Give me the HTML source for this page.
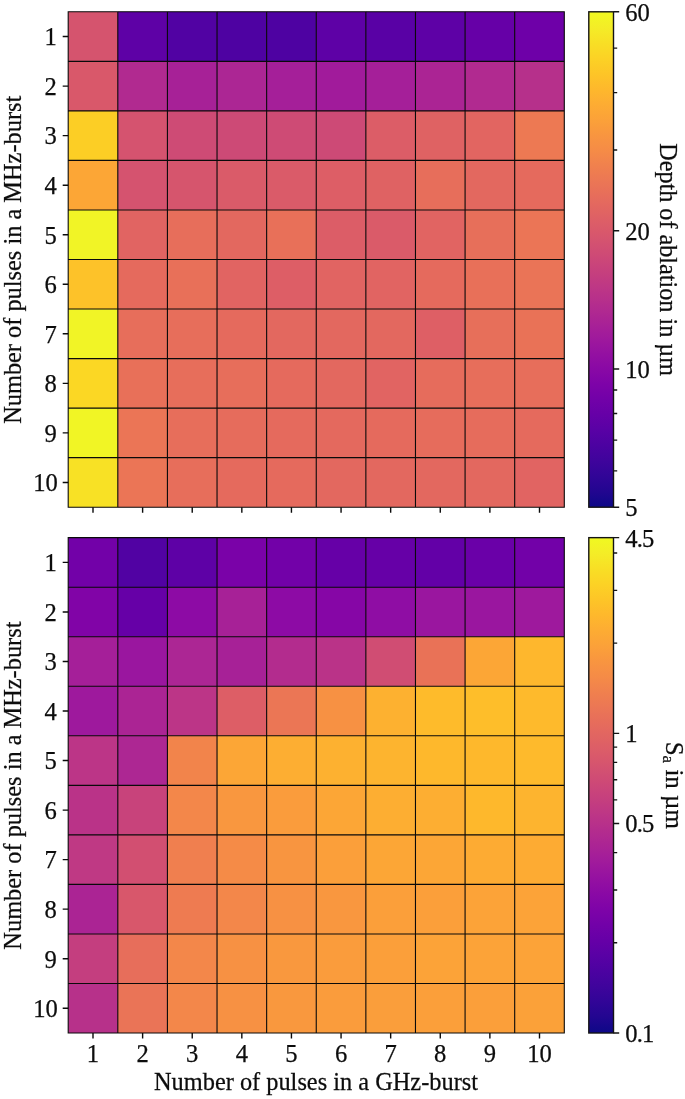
<!DOCTYPE html>
<html lang="en"><head><meta charset="utf-8"><title>Heatmaps</title>
<style>html,body{margin:0;padding:0;background:#fff}svg{display:block}text{font-family:"Liberation Serif","Times New Roman",serif;fill:#0d0d0d;stroke:#0d0d0d;stroke-width:0.25px}</style></head><body>
<svg width="685" height="1099" viewBox="0 0 685 1099">
<rect width="685" height="1099" fill="#fff"/>
<defs>
<linearGradient id="g1" x1="0" y1="1" x2="0" y2="0">
<stop offset="0.0000" stop-color="#0d0887"/>
<stop offset="0.0312" stop-color="#220690"/>
<stop offset="0.0625" stop-color="#310597"/>
<stop offset="0.0938" stop-color="#3f049c"/>
<stop offset="0.1250" stop-color="#4c02a1"/>
<stop offset="0.1562" stop-color="#5901a5"/>
<stop offset="0.1875" stop-color="#6600a7"/>
<stop offset="0.2188" stop-color="#7201a8"/>
<stop offset="0.2500" stop-color="#7e03a8"/>
<stop offset="0.2812" stop-color="#8a09a5"/>
<stop offset="0.3125" stop-color="#9511a1"/>
<stop offset="0.3438" stop-color="#a01a9c"/>
<stop offset="0.3750" stop-color="#aa2395"/>
<stop offset="0.4062" stop-color="#b32c8e"/>
<stop offset="0.4375" stop-color="#bc3587"/>
<stop offset="0.4688" stop-color="#c43e7f"/>
<stop offset="0.5000" stop-color="#cc4778"/>
<stop offset="0.5312" stop-color="#d35171"/>
<stop offset="0.5625" stop-color="#da5a6a"/>
<stop offset="0.5938" stop-color="#e06363"/>
<stop offset="0.6250" stop-color="#e66c5c"/>
<stop offset="0.6562" stop-color="#eb7655"/>
<stop offset="0.6875" stop-color="#f0804e"/>
<stop offset="0.7188" stop-color="#f58b47"/>
<stop offset="0.7500" stop-color="#f89540"/>
<stop offset="0.7812" stop-color="#fba139"/>
<stop offset="0.8125" stop-color="#fdac33"/>
<stop offset="0.8438" stop-color="#feb82c"/>
<stop offset="0.8750" stop-color="#fdc527"/>
<stop offset="0.9062" stop-color="#fcd225"/>
<stop offset="0.9375" stop-color="#f8df25"/>
<stop offset="0.9688" stop-color="#f4ed27"/>
<stop offset="1.0000" stop-color="#f0f921"/>
</linearGradient>
</defs>
<rect x="68.20" y="11.80" width="50.61" height="50.54" fill="#d5546e"/>
<rect x="117.81" y="11.80" width="50.61" height="50.54" fill="#5e01a6"/>
<rect x="167.42" y="11.80" width="50.61" height="50.54" fill="#5102a3"/>
<rect x="217.03" y="11.80" width="50.61" height="50.54" fill="#4e02a2"/>
<rect x="266.64" y="11.80" width="50.61" height="50.54" fill="#4e02a2"/>
<rect x="316.25" y="11.80" width="50.61" height="50.54" fill="#5e01a6"/>
<rect x="365.86" y="11.80" width="50.61" height="50.54" fill="#5901a5"/>
<rect x="415.47" y="11.80" width="50.61" height="50.54" fill="#5e01a6"/>
<rect x="465.08" y="11.80" width="50.61" height="50.54" fill="#6600a7"/>
<rect x="514.69" y="11.80" width="49.61" height="50.54" fill="#6e00a8"/>
<rect x="68.20" y="61.34" width="50.61" height="50.54" fill="#d9586a"/>
<rect x="117.81" y="61.34" width="50.61" height="50.54" fill="#b12a90"/>
<rect x="167.42" y="61.34" width="50.61" height="50.54" fill="#a72197"/>
<rect x="217.03" y="61.34" width="50.61" height="50.54" fill="#ac2694"/>
<rect x="266.64" y="61.34" width="50.61" height="50.54" fill="#a51f99"/>
<rect x="316.25" y="61.34" width="50.61" height="50.54" fill="#a11b9b"/>
<rect x="365.86" y="61.34" width="50.61" height="50.54" fill="#a51f99"/>
<rect x="415.47" y="61.34" width="50.61" height="50.54" fill="#ab2494"/>
<rect x="465.08" y="61.34" width="50.61" height="50.54" fill="#b12a90"/>
<rect x="514.69" y="61.34" width="49.61" height="50.54" fill="#b6308b"/>
<rect x="68.20" y="110.88" width="50.61" height="50.54" fill="#fcce25"/>
<rect x="117.81" y="110.88" width="50.61" height="50.54" fill="#d5536f"/>
<rect x="167.42" y="110.88" width="50.61" height="50.54" fill="#ce4b75"/>
<rect x="217.03" y="110.88" width="50.61" height="50.54" fill="#cd4a76"/>
<rect x="266.64" y="110.88" width="50.61" height="50.54" fill="#ce4b75"/>
<rect x="316.25" y="110.88" width="50.61" height="50.54" fill="#cd4a76"/>
<rect x="365.86" y="110.88" width="50.61" height="50.54" fill="#dc5d67"/>
<rect x="415.47" y="110.88" width="50.61" height="50.54" fill="#df6263"/>
<rect x="465.08" y="110.88" width="50.61" height="50.54" fill="#e26561"/>
<rect x="514.69" y="110.88" width="49.61" height="50.54" fill="#ed7953"/>
<rect x="68.20" y="160.42" width="50.61" height="50.54" fill="#fca636"/>
<rect x="117.81" y="160.42" width="50.61" height="50.54" fill="#d5536f"/>
<rect x="167.42" y="160.42" width="50.61" height="50.54" fill="#d6556d"/>
<rect x="217.03" y="160.42" width="50.61" height="50.54" fill="#da5b69"/>
<rect x="266.64" y="160.42" width="50.61" height="50.54" fill="#da5b69"/>
<rect x="316.25" y="160.42" width="50.61" height="50.54" fill="#dd5e66"/>
<rect x="365.86" y="160.42" width="50.61" height="50.54" fill="#df6263"/>
<rect x="415.47" y="160.42" width="50.61" height="50.54" fill="#e76e5b"/>
<rect x="465.08" y="160.42" width="50.61" height="50.54" fill="#e3685f"/>
<rect x="514.69" y="160.42" width="49.61" height="50.54" fill="#e56a5d"/>
<rect x="68.20" y="209.96" width="50.61" height="50.54" fill="#f1f426"/>
<rect x="117.81" y="209.96" width="50.61" height="50.54" fill="#e16462"/>
<rect x="167.42" y="209.96" width="50.61" height="50.54" fill="#e76e5b"/>
<rect x="217.03" y="209.96" width="50.61" height="50.54" fill="#e3685f"/>
<rect x="266.64" y="209.96" width="50.61" height="50.54" fill="#e87059"/>
<rect x="316.25" y="209.96" width="50.61" height="50.54" fill="#dc5d67"/>
<rect x="365.86" y="209.96" width="50.61" height="50.54" fill="#da5b69"/>
<rect x="415.47" y="209.96" width="50.61" height="50.54" fill="#e16462"/>
<rect x="465.08" y="209.96" width="50.61" height="50.54" fill="#e76f5a"/>
<rect x="514.69" y="209.96" width="49.61" height="50.54" fill="#eb7556"/>
<rect x="68.20" y="259.50" width="50.61" height="50.54" fill="#fdc229"/>
<rect x="117.81" y="259.50" width="50.61" height="50.54" fill="#e56a5d"/>
<rect x="167.42" y="259.50" width="50.61" height="50.54" fill="#e87059"/>
<rect x="217.03" y="259.50" width="50.61" height="50.54" fill="#e16462"/>
<rect x="266.64" y="259.50" width="50.61" height="50.54" fill="#dd5e66"/>
<rect x="316.25" y="259.50" width="50.61" height="50.54" fill="#e16462"/>
<rect x="365.86" y="259.50" width="50.61" height="50.54" fill="#e16462"/>
<rect x="415.47" y="259.50" width="50.61" height="50.54" fill="#e56a5d"/>
<rect x="465.08" y="259.50" width="50.61" height="50.54" fill="#e87059"/>
<rect x="514.69" y="259.50" width="49.61" height="50.54" fill="#ea7457"/>
<rect x="68.20" y="309.04" width="50.61" height="50.54" fill="#f1f426"/>
<rect x="117.81" y="309.04" width="50.61" height="50.54" fill="#e76e5b"/>
<rect x="167.42" y="309.04" width="50.61" height="50.54" fill="#e76e5b"/>
<rect x="217.03" y="309.04" width="50.61" height="50.54" fill="#e56a5d"/>
<rect x="266.64" y="309.04" width="50.61" height="50.54" fill="#e3685f"/>
<rect x="316.25" y="309.04" width="50.61" height="50.54" fill="#e3685f"/>
<rect x="365.86" y="309.04" width="50.61" height="50.54" fill="#e3685f"/>
<rect x="415.47" y="309.04" width="50.61" height="50.54" fill="#de5f65"/>
<rect x="465.08" y="309.04" width="50.61" height="50.54" fill="#e76f5a"/>
<rect x="514.69" y="309.04" width="49.61" height="50.54" fill="#e97257"/>
<rect x="68.20" y="358.58" width="50.61" height="50.54" fill="#fbd724"/>
<rect x="117.81" y="358.58" width="50.61" height="50.54" fill="#e87059"/>
<rect x="167.42" y="358.58" width="50.61" height="50.54" fill="#e76e5b"/>
<rect x="217.03" y="358.58" width="50.61" height="50.54" fill="#e76e5b"/>
<rect x="266.64" y="358.58" width="50.61" height="50.54" fill="#e56a5d"/>
<rect x="316.25" y="358.58" width="50.61" height="50.54" fill="#e3685f"/>
<rect x="365.86" y="358.58" width="50.61" height="50.54" fill="#e16462"/>
<rect x="415.47" y="358.58" width="50.61" height="50.54" fill="#e66c5c"/>
<rect x="465.08" y="358.58" width="50.61" height="50.54" fill="#e76e5b"/>
<rect x="514.69" y="358.58" width="49.61" height="50.54" fill="#e76e5b"/>
<rect x="68.20" y="408.12" width="50.61" height="50.54" fill="#f1f525"/>
<rect x="117.81" y="408.12" width="50.61" height="50.54" fill="#eb7556"/>
<rect x="167.42" y="408.12" width="50.61" height="50.54" fill="#e76e5b"/>
<rect x="217.03" y="408.12" width="50.61" height="50.54" fill="#e66c5c"/>
<rect x="266.64" y="408.12" width="50.61" height="50.54" fill="#e56a5d"/>
<rect x="316.25" y="408.12" width="50.61" height="50.54" fill="#e4695e"/>
<rect x="365.86" y="408.12" width="50.61" height="50.54" fill="#e56a5d"/>
<rect x="415.47" y="408.12" width="50.61" height="50.54" fill="#e66c5c"/>
<rect x="465.08" y="408.12" width="50.61" height="50.54" fill="#e66c5c"/>
<rect x="514.69" y="408.12" width="49.61" height="50.54" fill="#e56a5d"/>
<rect x="68.20" y="457.66" width="50.61" height="49.54" fill="#f8e125"/>
<rect x="117.81" y="457.66" width="50.61" height="49.54" fill="#eb7556"/>
<rect x="167.42" y="457.66" width="50.61" height="49.54" fill="#e76e5b"/>
<rect x="217.03" y="457.66" width="50.61" height="49.54" fill="#e56a5d"/>
<rect x="266.64" y="457.66" width="50.61" height="49.54" fill="#e56a5d"/>
<rect x="316.25" y="457.66" width="50.61" height="49.54" fill="#e3685f"/>
<rect x="365.86" y="457.66" width="50.61" height="49.54" fill="#e3685f"/>
<rect x="415.47" y="457.66" width="50.61" height="49.54" fill="#e3685f"/>
<rect x="465.08" y="457.66" width="50.61" height="49.54" fill="#e3685f"/>
<rect x="514.69" y="457.66" width="49.61" height="49.54" fill="#e16462"/>
<path d="M68.20 11.80V507.20M68.20 11.80H564.30M117.81 11.80V507.20M68.20 61.34H564.30M167.42 11.80V507.20M68.20 110.88H564.30M217.03 11.80V507.20M68.20 160.42H564.30M266.64 11.80V507.20M68.20 209.96H564.30M316.25 11.80V507.20M68.20 259.50H564.30M365.86 11.80V507.20M68.20 309.04H564.30M415.47 11.80V507.20M68.20 358.58H564.30M465.08 11.80V507.20M68.20 408.12H564.30M514.69 11.80V507.20M68.20 457.66H564.30M564.30 11.80V507.20M68.20 507.20H564.30" stroke="#0a0a0a" stroke-width="1.1" fill="none" stroke-linecap="square"/>
<path d="M68.20 36.57h-5.5M93.00 507.20v5.5M68.20 86.11h-5.5M142.62 507.20v5.5M68.20 135.65h-5.5M192.23 507.20v5.5M68.20 185.19h-5.5M241.83 507.20v5.5M68.20 234.73h-5.5M291.44 507.20v5.5M68.20 284.27h-5.5M341.06 507.20v5.5M68.20 333.81h-5.5M390.66 507.20v5.5M68.20 383.35h-5.5M440.27 507.20v5.5M68.20 432.89h-5.5M489.88 507.20v5.5M68.20 482.43h-5.5M539.50 507.20v5.5" stroke="#0a0a0a" stroke-width="1.4" fill="none"/>
<text x="56.90" y="45.37" font-size="24.6" text-anchor="end">1</text>
<text x="56.90" y="94.91" font-size="24.6" text-anchor="end">2</text>
<text x="56.90" y="144.45" font-size="24.6" text-anchor="end">3</text>
<text x="56.90" y="193.99" font-size="24.6" text-anchor="end">4</text>
<text x="56.90" y="243.53" font-size="24.6" text-anchor="end">5</text>
<text x="56.90" y="293.07" font-size="24.6" text-anchor="end">6</text>
<text x="56.90" y="342.61" font-size="24.6" text-anchor="end">7</text>
<text x="56.90" y="392.15" font-size="24.6" text-anchor="end">8</text>
<text x="56.90" y="441.69" font-size="24.6" text-anchor="end">9</text>
<text x="57.80" y="491.23" font-size="24.6" text-anchor="end">10</text>
<text transform="translate(20.9 259.8) rotate(-90) scale(0.975 1)" font-size="25" text-anchor="middle">Number of pulses in a MHz-burst</text>
<rect x="68.20" y="537.65" width="50.61" height="50.54" fill="#7201a8"/>
<rect x="117.81" y="537.65" width="50.61" height="50.54" fill="#5102a3"/>
<rect x="167.42" y="537.65" width="50.61" height="50.54" fill="#5e01a6"/>
<rect x="217.03" y="537.65" width="50.61" height="50.54" fill="#7a02a8"/>
<rect x="266.64" y="537.65" width="50.61" height="50.54" fill="#7201a8"/>
<rect x="316.25" y="537.65" width="50.61" height="50.54" fill="#6600a7"/>
<rect x="365.86" y="537.65" width="50.61" height="50.54" fill="#6600a7"/>
<rect x="415.47" y="537.65" width="50.61" height="50.54" fill="#6300a7"/>
<rect x="465.08" y="537.65" width="50.61" height="50.54" fill="#6a00a8"/>
<rect x="514.69" y="537.65" width="49.61" height="50.54" fill="#7201a8"/>
<rect x="68.20" y="587.18" width="50.61" height="50.54" fill="#8104a7"/>
<rect x="117.81" y="587.18" width="50.61" height="50.54" fill="#6600a7"/>
<rect x="167.42" y="587.18" width="50.61" height="50.54" fill="#8d0ba5"/>
<rect x="217.03" y="587.18" width="50.61" height="50.54" fill="#a72197"/>
<rect x="266.64" y="587.18" width="50.61" height="50.54" fill="#8d0ba5"/>
<rect x="316.25" y="587.18" width="50.61" height="50.54" fill="#8606a6"/>
<rect x="365.86" y="587.18" width="50.61" height="50.54" fill="#8f0da4"/>
<rect x="415.47" y="587.18" width="50.61" height="50.54" fill="#9a169f"/>
<rect x="465.08" y="587.18" width="50.61" height="50.54" fill="#9a169f"/>
<rect x="514.69" y="587.18" width="49.61" height="50.54" fill="#9e199d"/>
<rect x="68.20" y="636.72" width="50.61" height="50.54" fill="#a51f99"/>
<rect x="117.81" y="636.72" width="50.61" height="50.54" fill="#9a169f"/>
<rect x="167.42" y="636.72" width="50.61" height="50.54" fill="#ac2694"/>
<rect x="217.03" y="636.72" width="50.61" height="50.54" fill="#a72197"/>
<rect x="266.64" y="636.72" width="50.61" height="50.54" fill="#b32c8e"/>
<rect x="316.25" y="636.72" width="50.61" height="50.54" fill="#ba3388"/>
<rect x="365.86" y="636.72" width="50.61" height="50.54" fill="#d04d73"/>
<rect x="415.47" y="636.72" width="50.61" height="50.54" fill="#e97257"/>
<rect x="465.08" y="636.72" width="50.61" height="50.54" fill="#fca636"/>
<rect x="514.69" y="636.72" width="49.61" height="50.54" fill="#feb72d"/>
<rect x="68.20" y="686.25" width="50.61" height="50.54" fill="#9e199d"/>
<rect x="117.81" y="686.25" width="50.61" height="50.54" fill="#ab2494"/>
<rect x="167.42" y="686.25" width="50.61" height="50.54" fill="#bc3587"/>
<rect x="217.03" y="686.25" width="50.61" height="50.54" fill="#dd5e66"/>
<rect x="266.64" y="686.25" width="50.61" height="50.54" fill="#eb7655"/>
<rect x="316.25" y="686.25" width="50.61" height="50.54" fill="#f79143"/>
<rect x="365.86" y="686.25" width="50.61" height="50.54" fill="#fdb130"/>
<rect x="415.47" y="686.25" width="50.61" height="50.54" fill="#febb2b"/>
<rect x="465.08" y="686.25" width="50.61" height="50.54" fill="#febe2a"/>
<rect x="514.69" y="686.25" width="49.61" height="50.54" fill="#feba2c"/>
<rect x="68.20" y="735.79" width="50.61" height="50.54" fill="#bc3587"/>
<rect x="117.81" y="735.79" width="50.61" height="50.54" fill="#ad2793"/>
<rect x="167.42" y="735.79" width="50.61" height="50.54" fill="#f2844b"/>
<rect x="217.03" y="735.79" width="50.61" height="50.54" fill="#fca636"/>
<rect x="266.64" y="735.79" width="50.61" height="50.54" fill="#fdae32"/>
<rect x="316.25" y="735.79" width="50.61" height="50.54" fill="#fdb130"/>
<rect x="365.86" y="735.79" width="50.61" height="50.54" fill="#fdb42f"/>
<rect x="415.47" y="735.79" width="50.61" height="50.54" fill="#feb82c"/>
<rect x="465.08" y="735.79" width="50.61" height="50.54" fill="#feb82c"/>
<rect x="514.69" y="735.79" width="49.61" height="50.54" fill="#feba2c"/>
<rect x="68.20" y="785.33" width="50.61" height="50.54" fill="#ba3388"/>
<rect x="117.81" y="785.33" width="50.61" height="50.54" fill="#c8437b"/>
<rect x="167.42" y="785.33" width="50.61" height="50.54" fill="#f3874a"/>
<rect x="217.03" y="785.33" width="50.61" height="50.54" fill="#f9973f"/>
<rect x="266.64" y="785.33" width="50.61" height="50.54" fill="#fa9c3c"/>
<rect x="316.25" y="785.33" width="50.61" height="50.54" fill="#fca636"/>
<rect x="365.86" y="785.33" width="50.61" height="50.54" fill="#fdae32"/>
<rect x="415.47" y="785.33" width="50.61" height="50.54" fill="#fdae32"/>
<rect x="465.08" y="785.33" width="50.61" height="50.54" fill="#feb82c"/>
<rect x="514.69" y="785.33" width="49.61" height="50.54" fill="#fdb42f"/>
<rect x="68.20" y="834.86" width="50.61" height="50.54" fill="#bf3984"/>
<rect x="117.81" y="834.86" width="50.61" height="50.54" fill="#d24f71"/>
<rect x="167.42" y="834.86" width="50.61" height="50.54" fill="#f07f4f"/>
<rect x="217.03" y="834.86" width="50.61" height="50.54" fill="#f58b47"/>
<rect x="266.64" y="834.86" width="50.61" height="50.54" fill="#f89540"/>
<rect x="316.25" y="834.86" width="50.61" height="50.54" fill="#fb9f3a"/>
<rect x="365.86" y="834.86" width="50.61" height="50.54" fill="#fca636"/>
<rect x="415.47" y="834.86" width="50.61" height="50.54" fill="#fca636"/>
<rect x="465.08" y="834.86" width="50.61" height="50.54" fill="#fdab33"/>
<rect x="514.69" y="834.86" width="49.61" height="50.54" fill="#fdab33"/>
<rect x="68.20" y="884.39" width="50.61" height="50.54" fill="#ab2494"/>
<rect x="117.81" y="884.39" width="50.61" height="50.54" fill="#d8576b"/>
<rect x="167.42" y="884.39" width="50.61" height="50.54" fill="#ee7b51"/>
<rect x="217.03" y="884.39" width="50.61" height="50.54" fill="#f3874a"/>
<rect x="266.64" y="884.39" width="50.61" height="50.54" fill="#f79143"/>
<rect x="316.25" y="884.39" width="50.61" height="50.54" fill="#f9973f"/>
<rect x="365.86" y="884.39" width="50.61" height="50.54" fill="#fb9f3a"/>
<rect x="415.47" y="884.39" width="50.61" height="50.54" fill="#fb9f3a"/>
<rect x="465.08" y="884.39" width="50.61" height="50.54" fill="#fca338"/>
<rect x="514.69" y="884.39" width="49.61" height="50.54" fill="#fca338"/>
<rect x="68.20" y="933.93" width="50.61" height="50.54" fill="#c43e7f"/>
<rect x="117.81" y="933.93" width="50.61" height="50.54" fill="#e76e5b"/>
<rect x="167.42" y="933.93" width="50.61" height="50.54" fill="#f3874a"/>
<rect x="217.03" y="933.93" width="50.61" height="50.54" fill="#f79143"/>
<rect x="266.64" y="933.93" width="50.61" height="50.54" fill="#f9983e"/>
<rect x="316.25" y="933.93" width="50.61" height="50.54" fill="#fa9c3c"/>
<rect x="365.86" y="933.93" width="50.61" height="50.54" fill="#fb9f3a"/>
<rect x="415.47" y="933.93" width="50.61" height="50.54" fill="#fca338"/>
<rect x="465.08" y="933.93" width="50.61" height="50.54" fill="#fca338"/>
<rect x="514.69" y="933.93" width="49.61" height="50.54" fill="#fca338"/>
<rect x="68.20" y="983.47" width="50.61" height="49.54" fill="#b7318a"/>
<rect x="117.81" y="983.47" width="50.61" height="49.54" fill="#ea7457"/>
<rect x="167.42" y="983.47" width="50.61" height="49.54" fill="#f3874a"/>
<rect x="217.03" y="983.47" width="50.61" height="49.54" fill="#f79143"/>
<rect x="266.64" y="983.47" width="50.61" height="49.54" fill="#f9983e"/>
<rect x="316.25" y="983.47" width="50.61" height="49.54" fill="#fa9c3c"/>
<rect x="365.86" y="983.47" width="50.61" height="49.54" fill="#fa9e3b"/>
<rect x="415.47" y="983.47" width="50.61" height="49.54" fill="#fb9f3a"/>
<rect x="465.08" y="983.47" width="50.61" height="49.54" fill="#fb9f3a"/>
<rect x="514.69" y="983.47" width="49.61" height="49.54" fill="#fba139"/>
<path d="M68.20 537.65V1033.00M68.20 537.65H564.30M117.81 537.65V1033.00M68.20 587.18H564.30M167.42 537.65V1033.00M68.20 636.72H564.30M217.03 537.65V1033.00M68.20 686.25H564.30M266.64 537.65V1033.00M68.20 735.79H564.30M316.25 537.65V1033.00M68.20 785.33H564.30M365.86 537.65V1033.00M68.20 834.86H564.30M415.47 537.65V1033.00M68.20 884.39H564.30M465.08 537.65V1033.00M68.20 933.93H564.30M514.69 537.65V1033.00M68.20 983.47H564.30M564.30 537.65V1033.00M68.20 1033.00H564.30" stroke="#0a0a0a" stroke-width="1.1" fill="none" stroke-linecap="square"/>
<path d="M68.20 562.42h-5.5M93.00 1033.00v5.5M68.20 611.95h-5.5M142.62 1033.00v5.5M68.20 661.49h-5.5M192.23 1033.00v5.5M68.20 711.02h-5.5M241.83 1033.00v5.5M68.20 760.56h-5.5M291.44 1033.00v5.5M68.20 810.09h-5.5M341.06 1033.00v5.5M68.20 859.63h-5.5M390.66 1033.00v5.5M68.20 909.16h-5.5M440.27 1033.00v5.5M68.20 958.70h-5.5M489.88 1033.00v5.5M68.20 1008.23h-5.5M539.50 1033.00v5.5" stroke="#0a0a0a" stroke-width="1.4" fill="none"/>
<text x="56.90" y="571.22" font-size="24.6" text-anchor="end">1</text>
<text x="56.90" y="620.75" font-size="24.6" text-anchor="end">2</text>
<text x="56.90" y="670.29" font-size="24.6" text-anchor="end">3</text>
<text x="56.90" y="719.82" font-size="24.6" text-anchor="end">4</text>
<text x="56.90" y="769.36" font-size="24.6" text-anchor="end">5</text>
<text x="56.90" y="818.89" font-size="24.6" text-anchor="end">6</text>
<text x="56.90" y="868.43" font-size="24.6" text-anchor="end">7</text>
<text x="56.90" y="917.96" font-size="24.6" text-anchor="end">8</text>
<text x="56.90" y="967.50" font-size="24.6" text-anchor="end">9</text>
<text x="57.80" y="1017.03" font-size="24.6" text-anchor="end">10</text>
<text x="93.00" y="1061.60" font-size="24.6" text-anchor="middle">1</text>
<text x="142.62" y="1061.60" font-size="24.6" text-anchor="middle">2</text>
<text x="192.23" y="1061.60" font-size="24.6" text-anchor="middle">3</text>
<text x="241.83" y="1061.60" font-size="24.6" text-anchor="middle">4</text>
<text x="291.44" y="1061.60" font-size="24.6" text-anchor="middle">5</text>
<text x="341.06" y="1061.60" font-size="24.6" text-anchor="middle">6</text>
<text x="390.66" y="1061.60" font-size="24.6" text-anchor="middle">7</text>
<text x="440.27" y="1061.60" font-size="24.6" text-anchor="middle">8</text>
<text x="489.88" y="1061.60" font-size="24.6" text-anchor="middle">9</text>
<text x="539.50" y="1061.60" font-size="24.6" text-anchor="middle">10</text>
<text transform="translate(20.9 785.6) rotate(-90) scale(0.975 1)" font-size="25" text-anchor="middle">Number of pulses in a MHz-burst</text>
<text transform="translate(316.0 1090.0) scale(0.975 1)" font-size="25" text-anchor="middle">Number of pulses in a GHz-burst</text>
<rect x="588.8" y="11.8" width="24.70" height="495.40" fill="url(#g1)" stroke="#141414" stroke-width="1.4"/>
<path d="M613.50 11.80h5.7M613.50 230.82h5.7M613.50 369.01h5.7M613.50 507.20h5.7M613.50 470.85h3.7M613.50 440.12h3.7M613.50 413.50h3.7M613.50 390.02h3.7M613.50 149.99h3.7M613.50 92.63h3.7M613.50 48.15h3.7" stroke="#141414" stroke-width="1.4" fill="none"/>
<text x="625.30" y="20.70" font-size="24.6">60</text>
<text x="625.30" y="239.72" font-size="24.6">20</text>
<text x="625.30" y="377.91" font-size="24.6">10</text>
<text x="625.30" y="516.10" font-size="24.6">5</text>
<text transform="translate(659.8 259.65) rotate(90) scale(0.968 1)" font-size="25" text-anchor="middle">Depth of ablation in µm</text>
<rect x="588.8" y="537.65" width="24.70" height="495.35" fill="url(#g1)" stroke="#141414" stroke-width="1.4"/>
<path d="M613.50 537.65h5.7M613.50 733.37h5.7M613.50 823.57h5.7M613.50 1033.00h5.7M613.50 942.80h3.7M613.50 890.04h3.7M613.50 852.61h3.7M613.50 799.84h3.7M613.50 779.78h3.7M613.50 762.41h3.7M613.50 747.08h3.7M613.50 643.17h3.7M613.50 590.41h3.7M613.50 552.98h3.7" stroke="#141414" stroke-width="1.4" fill="none"/>
<text x="625.30" y="546.55" font-size="24.6" letter-spacing="-0.9">4.5</text>
<text x="625.30" y="742.27" font-size="24.6">1</text>
<text x="625.30" y="832.47" font-size="24.6" letter-spacing="-0.9">0.5</text>
<text x="625.30" y="1041.90" font-size="24.6" letter-spacing="-0.9">0.1</text>
<text transform="translate(666.0 785.3) rotate(90) scale(1.0 1)" font-size="25" text-anchor="middle">S<tspan font-size="17" dy="3.4">a</tspan><tspan dy="-3.4"> in µm</tspan></text>
</svg></body></html>
